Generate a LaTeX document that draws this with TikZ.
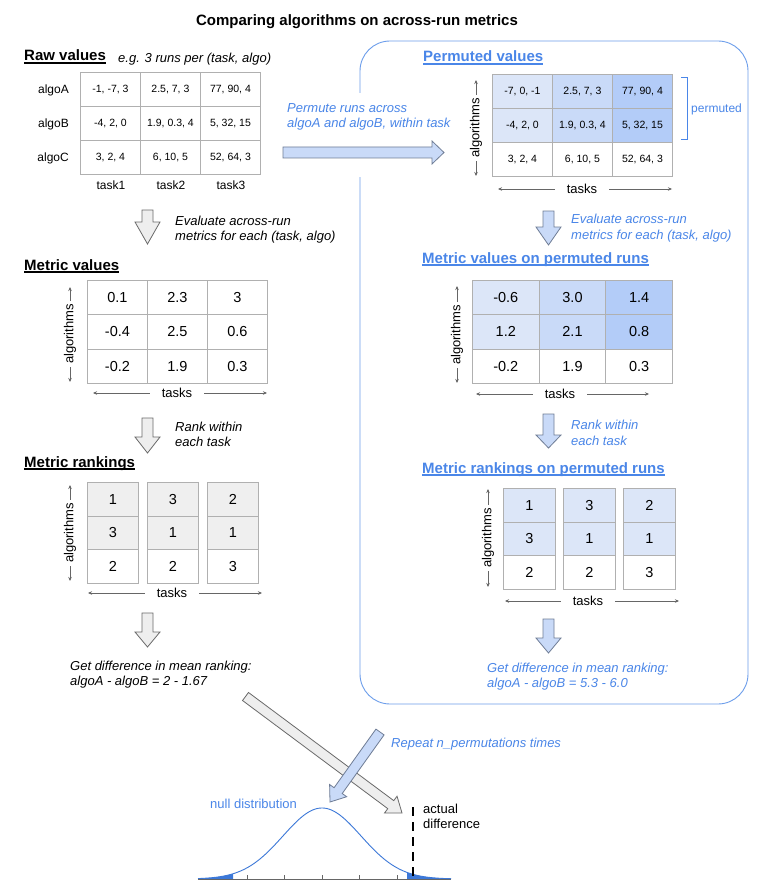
\documentclass[tikz,border=0pt]{standalone}
\usepackage{fontspec}
\setmainfont{Liberation Sans}
\usetikzlibrary{arrows.meta,calc}
\definecolor{gridgray}{HTML}{B0B0B0}
\definecolor{axgray}{HTML}{666666}
\definecolor{tblue}{HTML}{4A86E8}
\definecolor{boxblue}{HTML}{6D9EEB}
\definecolor{pA}{HTML}{DCE6F8}
\definecolor{pB}{HTML}{C9DAF8}
\definecolor{pC}{HTML}{B3CCF8}
\definecolor{rgray}{HTML}{EFEFEF}
\definecolor{agray}{HTML}{EEEEEE}
\definecolor{aborder}{HTML}{6A6A6A}
\definecolor{bborder}{HTML}{6F7D96}
\definecolor{curveblue}{HTML}{3C78D8}
\newcommand\myfs[1]{\fontsize{#1}{#1}\selectfont}
\newcommand\downblock[5]{\draw[#1] ({#2-5.5},#3) -- ({#2+5.5},#3) -- ({#2+5.5},#4) -- ({#2+12.5},#4) -- (#2,#5) -- ({#2-12.5},#4) -- ({#2-5.5},#4) -- cycle;}
\newcommand\diagblock[6]{%
  \coordinate (dbS) at #2; \coordinate (dbE) at #3;
  \coordinate (dbH) at ($(dbE)!#5!(dbS)$);
  \draw[#1] ($(dbS)!#4!90:(dbE)$) -- ($(dbH)!#4!-90:(dbS)$) -- ($(dbH)!#6!-90:(dbS)$) -- (dbE) -- ($(dbH)!#6!90:(dbS)$) -- ($(dbH)!#4!90:(dbS)$) -- ($(dbS)!#4!-90:(dbE)$) -- cycle;}
\begin{document}
\begin{tikzpicture}[x=1pt,y=-1pt,
  heading/.style={anchor=base west, inner sep=0pt, font=\myfs{15}\bfseries},
  note/.style={anchor=base west, inner sep=0pt, font=\myfs{13}\itshape},
  bnote/.style={note, text=tblue},
  plain/.style={inner sep=0pt, font=\myfs{12}},
  ul/.style={line width=1.2pt},
  cellbase/.style={draw=gridgray, line width=0.9pt, anchor=north west, inner sep=0pt},
  rawcell/.style={cellbase, minimum width=60pt, minimum height=34pt, font=\myfs{10.5}},
  metcell/.style={cellbase, minimum width=60pt, minimum height=34.3pt, font=\myfs{14.5}},
  pmetcell/.style={cellbase, minimum width=66.7pt, minimum height=34.3pt, font=\myfs{14.5}},
  rankcell/.style={cellbase, minimum width=51pt, minimum height=33.7pt, font=\myfs{14.5}},
  axlab/.style={font=\myfs{13}, inner ysep=0pt},
  vlab/.style={axlab, rotate=90, inner xsep=3pt},
  hlab/.style={axlab, inner xsep=12pt},
  axline/.style={draw=axgray, line width=0.7pt, -{Stealth[length=4pt,width=3.5pt]}},
  garrow/.style={fill=agray, draw=aborder, line width=0.8pt, line join=miter},
  barrow/.style={fill=pB, draw=bborder, line width=0.8pt, line join=miter}
]
\useasboundingbox (0,0) rectangle (761,896);
\fill[white] (0,0) rectangle (761,896);

% right rounded box
\draw[boxblue, line width=0.9pt, rounded corners=30pt] (360,41) rectangle (748,704);
\fill[white] (355,93) rectangle (365,177);

% title
\node[heading, anchor=base] (title) at (357,25.5) {Comparing algorithms on across-run metrics};

% ---------- Raw values ----------
\node[heading] (hRaw) at (24,61) {Raw values};
\draw[ul] ([yshift=-2pt]hRaw.base west) -- ([yshift=-2pt]hRaw.base east);
\node[note] (eg) at (118,63) {e.g. 3 runs per (task, algo)};

\node[rawcell] (r11) at (80,72) {-1, -7, 3};
\node[rawcell] (r12) at (140,72) {2.5, 7, 3};
\node[rawcell] (r13) at (200,72) {77, 90, 4};
\node[rawcell] (r21) at (80,106) {-4, 2, 0};
\node[rawcell] (r22) at (140,106) {1.9, 0.3, 4};
\node[rawcell] (r23) at (200,106) {5, 32, 15};
\node[rawcell] (r31) at (80,140) {3, 2, 4};
\node[rawcell] (r32) at (140,140) {6, 10, 5};
\node[rawcell] (r33) at (200,140) {52, 64, 3};

\node[plain, anchor=base east] (rA) at (69,93.3) {algoA};
\node[plain, anchor=base east] (rB) at (69,127.3) {algoB};
\node[plain, anchor=base east] (rC) at (69,161.3) {algoC};
\node[plain, anchor=base] (t1) at (111,189.5) {task1};
\node[plain, anchor=base] (t2) at (171,189.5) {task2};
\node[plain, anchor=base] (t3) at (231,189.5) {task3};

% permute arrow + note
\node[bnote] (perm1) at (287,113) {Permute runs across};
\node[bnote] (perm2) at (287,128) {algoA and algoB, within task};
\draw[barrow] (283,147) -- (432,147) -- (432,141) -- (444,152.5) -- (432,164) -- (432,158) -- (283,158) -- cycle;

% ---------- Permuted values ----------
\node[heading, text=tblue] (hPerm) at (423,62) {Permuted values};
\draw[ul, tblue] ([yshift=-2pt]hPerm.base west) -- ([yshift=-2pt]hPerm.base east);

\node[rawcell, fill=pA] (p11) at (492,74) {-7, 0, -1};
\node[rawcell, fill=pB] (p12) at (552,74) {2.5, 7, 3};
\node[rawcell, fill=pC] (p13) at (612,74) {77, 90, 4};
\node[rawcell, fill=pA] (p21) at (492,108) {-4, 2, 0};
\node[rawcell, fill=pB] (p22) at (552,108) {1.9, 0.3, 4};
\node[rawcell, fill=pC] (p23) at (612,108) {5, 32, 15};
\node[rawcell] (p31) at (492,142) {3, 2, 4};
\node[rawcell] (p32) at (552,142) {6, 10, 5};
\node[rawcell] (p33) at (612,142) {52, 64, 3};

\node[vlab] (pvA) at (476,128) {algorithms};
\coordinate (pvAt) at (476,80);
\coordinate (pvAb) at (476,176);
\draw[axline] (pvA.east) -- (pvAt);
\draw[axline] (pvA.west) -- (pvAb);
\node[hlab] (pvT) at (582,189) {tasks};
\coordinate (pvTl) at (498,189);
\coordinate (pvTr) at (672,189);
\draw[axline] (pvT.west) -- (pvTl);
\draw[axline] (pvT.east) -- (pvTr);

\draw[tblue, line width=0.9pt] (681,77) -- (687,77) -- (687,139) -- (681,139);
\node[plain, anchor=west, text=tblue] (permLab) at (691,109) {permuted};

% ---------- evaluate arrows ----------
\downblock{garrow}{147.5}{210}{222}{244}
\node[note] (evL1) at (175,225) {Evaluate across-run};
\node[note] (evL2) at (175,240) {metrics for each (task, algo)};
\downblock{barrow}{548.5}{211}{227}{245}
\node[bnote] (evR1) at (571,223) {Evaluate across-run};
\node[bnote] (evR2) at (571,239) {metrics for each (task, algo)};

% ---------- Metric values ----------
\node[heading] (hMet) at (24,270) {Metric values};
\draw[ul] ([yshift=-2pt]hMet.base west) -- ([yshift=-2pt]hMet.base east);
\node[metcell] (m11) at (87,280) {0.1};
\node[metcell] (m12) at (147,280) {2.3};
\node[metcell] (m13) at (207,280) {3};
\node[metcell] (m21) at (87,314.3) {-0.4};
\node[metcell] (m22) at (147,314.3) {2.5};
\node[metcell] (m23) at (207,314.3) {0.6};
\node[metcell] (m31) at (87,348.6) {-0.2};
\node[metcell] (m32) at (147,348.6) {1.9};
\node[metcell] (m33) at (207,348.6) {0.3};

\node[vlab] (mvA) at (70,334) {algorithms};
\coordinate (mvAt) at (70,287);
\coordinate (mvAb) at (70,382);
\draw[axline] (mvA.east) -- (mvAt);
\draw[axline] (mvA.west) -- (mvAb);
\node[hlab] (mvT) at (177,393) {tasks};
\coordinate (mvTl) at (93,393);
\coordinate (mvTr) at (267,393);
\draw[axline] (mvT.west) -- (mvTl);
\draw[axline] (mvT.east) -- (mvTr);

% ---------- Metric values on permuted runs ----------
\node[heading, text=tblue] (hPMet) at (422,263) {Metric values on permuted runs};
\draw[ul, tblue] ([yshift=-2pt]hPMet.base west) -- ([yshift=-2pt]hPMet.base east);
\node[pmetcell, fill=pA] (q11) at (472,280) {-0.6};
\node[pmetcell, fill=pB] (q12) at (538.7,280) {3.0};
\node[pmetcell, fill=pC] (q13) at (605.3,280) {1.4};
\node[pmetcell, fill=pA] (q21) at (472,314.3) {1.2};
\node[pmetcell, fill=pB] (q22) at (538.7,314.3) {2.1};
\node[pmetcell, fill=pC] (q23) at (605.3,314.3) {0.8};
\node[pmetcell] (q31) at (472,348.6) {-0.2};
\node[pmetcell] (q32) at (538.7,348.6) {1.9};
\node[pmetcell] (q33) at (605.3,348.6) {0.3};

\node[vlab] (qvA) at (457,335) {algorithms};
\coordinate (qvAt) at (457,286);
\coordinate (qvAb) at (457,383);
\draw[axline] (qvA.east) -- (qvAt);
\draw[axline] (qvA.west) -- (qvAb);
\node[hlab] (qvT) at (560,394) {tasks};
\coordinate (qvTl) at (476,394);
\coordinate (qvTr) at (649,394);
\draw[axline] (qvT.west) -- (qvTl);
\draw[axline] (qvT.east) -- (qvTr);

% ---------- rank arrows ----------
\downblock{garrow}{147.5}{418}{437}{453}
\node[note] (rkL1) at (175,431) {Rank within};
\node[note] (rkL2) at (175,446) {each task};
\downblock{barrow}{548.5}{414}{435}{448}
\node[bnote] (rkR1) at (571,429) {Rank within};
\node[bnote] (rkR2) at (571,445) {each task};

% ---------- Metric rankings ----------
\node[heading] (hRank) at (24,467) {Metric rankings};
\draw[ul] ([yshift=-2pt]hRank.base west) -- ([yshift=-2pt]hRank.base east);
\node[rankcell, fill=rgray] (k11) at (87,482) {1};
\node[rankcell, fill=rgray] (k12) at (147,482) {3};
\node[rankcell, fill=rgray] (k13) at (207,482) {2};
\node[rankcell, fill=rgray] (k21) at (87,515.7) {3};
\node[rankcell, fill=rgray] (k22) at (147,515.7) {1};
\node[rankcell, fill=rgray] (k23) at (207,515.7) {1};
\node[rankcell] (k31) at (87,549.4) {2};
\node[rankcell] (k32) at (147,549.4) {2};
\node[rankcell] (k33) at (207,549.4) {3};

\node[vlab] (kvA) at (70,533) {algorithms};
\coordinate (kvAt) at (70,485);
\coordinate (kvAb) at (70,581);
\draw[axline] (kvA.east) -- (kvAt);
\draw[axline] (kvA.west) -- (kvAb);
\node[hlab] (kvT) at (172,593) {tasks};
\coordinate (kvTl) at (88,593);
\coordinate (kvTr) at (262,593);
\draw[axline] (kvT.west) -- (kvTl);
\draw[axline] (kvT.east) -- (kvTr);

% ---------- Metric rankings on permuted runs ----------
\node[heading, text=tblue] (hPRank) at (422,473) {Metric rankings on permuted runs};
\draw[ul, tblue] ([yshift=-2pt]hPRank.base west) -- ([yshift=-2pt]hPRank.base east);
\node[rankcell, minimum width=52pt, fill=pA] (s11) at (503,488) {1};
\node[rankcell, minimum width=52pt, fill=pA] (s12) at (563,488) {3};
\node[rankcell, minimum width=52pt, fill=pA] (s13) at (623,488) {2};
\node[rankcell, minimum width=52pt, fill=pA] (s21) at (503,521.7) {3};
\node[rankcell, minimum width=52pt, fill=pA] (s22) at (563,521.7) {1};
\node[rankcell, minimum width=52pt, fill=pA] (s23) at (623,521.7) {1};
\node[rankcell, minimum width=52pt] (s31) at (503,555.4) {2};
\node[rankcell, minimum width=52pt] (s32) at (563,555.4) {2};
\node[rankcell, minimum width=52pt] (s33) at (623,555.4) {3};

\node[vlab] (svA) at (488,538) {algorithms};
\coordinate (svAt) at (488,489);
\coordinate (svAb) at (488,587);
\draw[axline] (svA.east) -- (svAt);
\draw[axline] (svA.west) -- (svAb);
\node[hlab] (svT) at (588,601) {tasks};
\coordinate (svTl) at (505,601);
\coordinate (svTr) at (679,601);
\draw[axline] (svT.west) -- (svTl);
\draw[axline] (svT.east) -- (svTr);

% ---------- difference arrows ----------
\downblock{garrow}{147.5}{613}{632}{647}
\node[note] (dfL1) at (70,670) {Get difference in mean ranking:};
\node[note] (dfL2) at (70,685) {algoA - algoB = 2 - 1.67};
\downblock{barrow}{548.5}{619}{638}{653}
\node[bnote] (dfR1) at (487,672) {Get difference in mean ranking:};
\node[bnote] (dfR2) at (487,687) {algoA - algoB = 5.3 - 6.0};

% ---------- bottom: distribution ----------
\diagblock{garrow}{(245.5,696.5)}{(402,813)}{5pt}{14pt}{10.5pt}
\diagblock{barrow}{(380,732)}{(330,802)}{5pt}{14pt}{10.5pt}
\node[bnote] (rep) at (391,747) {Repeat n\_permutations times};

\fill[curveblue] plot[domain=198:233, samples=30] (\x,{879-71*exp(-0.5*((\x-322)/39)^2)}) -- (233,879) -- (198,879) -- cycle;
\fill[curveblue] (407,879) -- plot[domain=407:451, samples=30] (\x,{879-71*exp(-0.5*((\x-322)/39)^2)}) -- (451,879) -- cycle;
\draw[axgray, line width=0.8pt] (198,879) -- (451,879);
\foreach \tx in {247,284.5,322,359.5,397} \draw[axgray, line width=0.8pt] (\tx,875) -- (\tx,879);
\draw[curveblue, line width=0.9pt] plot[domain=198:451, samples=140] (\x,{879-71*exp(-0.5*((\x-322)/39)^2)});
\draw[black, line width=2.2pt, dash pattern=on 9pt off 6pt] (413,807) -- (413,880);

\node[plain, anchor=base west, font=\myfs{13}, text=tblue] (nulld) at (210,808) {null distribution};
\node[plain, anchor=base west, font=\myfs{13}] (act1) at (423,813) {actual};
\node[plain, anchor=base west, font=\myfs{13}] (act2) at (423,828) {difference};
\end{tikzpicture}
\end{document}
